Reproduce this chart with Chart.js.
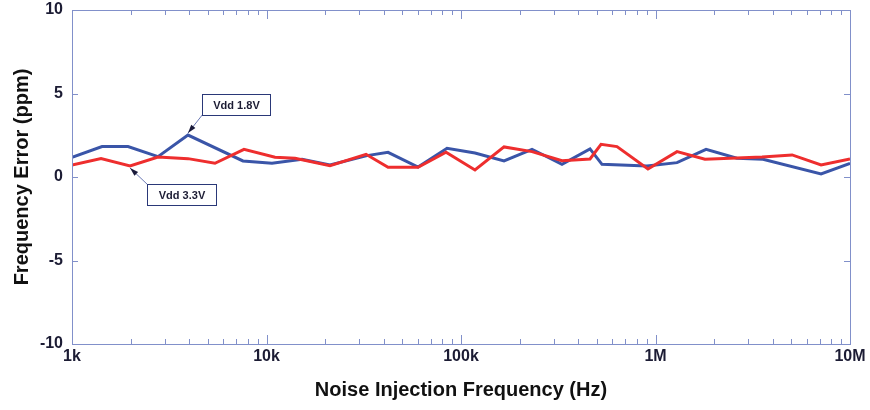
<!DOCTYPE html>
<html>
<head>
<meta charset="utf-8">
<script src="https://cdn.jsdelivr.net/npm/chart.js@4.4.1/dist/chart.umd.min.js"></script>
<style>
    html, body { margin: 0; padding: 0; background: #fff; }
    #wrap { width: 870px; height: 410px; }
</style>
</head>
<body>
<div id="wrap"><canvas id="noiseChart" width="870" height="410"></canvas></div>
<script>
// Frequencies (Hz) and frequency error (ppm)
const blueFreq = [1000, 1427, 1941, 2768, 3948, 7568, 10670, 15230, 21200, 32860, 42170, 60140, 84760,
    118000, 166400, 231800, 330500, 460600, 530700, 903700, 1290000, 1820000, 2620000, 3570000, 7100000, 10000000];
const blueValues = [1.18, 1.82, 1.82, 1.22, 2.51, 0.96, 0.82, 1.06, 0.72, 1.28, 1.48, 0.6, 1.72,
    1.44, 0.96, 1.66, 0.76, 1.68, 0.76, 0.66, 0.86, 1.66, 1.12, 1.06, 0.18, 0.82];

const redFreq = [1000, 1410, 1988, 2768, 3948, 5433, 7660, 11060, 14020, 21200, 32490, 42170, 60140, 83750,
    118000, 166400, 231800, 330500, 460600, 524800, 633900, 914500, 1290000, 1796000, 3530000, 5040000, 7100000, 10000000];
const redValues = [0.72, 1.1, 0.66, 1.2, 1.1, 0.82, 1.66, 1.18, 1.12, 0.68, 1.36, 0.58, 0.58, 1.48,
    0.42, 1.8, 1.52, 0.98, 1.08, 1.96, 1.82, 0.48, 1.52, 1.06, 1.2, 1.32, 0.72, 1.08];

const xTickValues = [1e3, 1e4, 1e5, 1e6, 1e7];
const xTickLabels = ['1k', '10k', '100k', '1M', '10M'];
const yTickValues = [-10, -5, 0, 5, 10];

const seriesNames = ['Vdd 1.8V', 'Vdd 3.3V'];

const FONT = "'Liberation Sans', Arial, sans-serif";
const FRAME = '#8190ca';
const TEXT = '#1c1c34';

const toPoints = (xs, ys) => xs.map((x, i) => ({ x, y: ys[i] }));

// box + arrow callouts, tip anchored on a data point
const callouts = [
    { text: seriesNames[0], tip: { x: 3948, y: 2.51 }, tipDy: -2, box: { x: 202, y: 94, w: 68, h: 21 }, from: 'bl' },
    { text: seriesNames[1], tip: { x: 1988, y: 0.66 }, tipDy: 2, box: { x: 147, y: 184, w: 69, h: 21 }, from: 'tl' },
];

const framePlugin = {
    id: 'frame',
    afterDatasetsDraw(chart) {
        const { ctx, chartArea: a, scales } = chart;
        ctx.save();
        ctx.strokeStyle = FRAME;
        ctx.lineWidth = 1;
        ctx.strokeRect(a.left + 0.5, a.top + 0.5, a.right - a.left, a.bottom - a.top);

        ctx.beginPath();
        yTickValues.forEach((v) => {
            const y = Math.round(scales.y.getPixelForValue(v)) + 0.5;
            ctx.moveTo(a.left, y); ctx.lineTo(a.left + 6, y);
            ctx.moveTo(a.right, y); ctx.lineTo(a.right - 6, y);
        });
        for (let d = 1e3; d < 1e7; d *= 10) {
            for (let m = 1; m <= 9; m++) {
                const x = Math.round(scales.x.getPixelForValue(d * m)) + 0.5;
                const len = m === 1 ? 9 : 5;
                ctx.moveTo(x, a.bottom); ctx.lineTo(x, a.bottom - len);
                ctx.moveTo(x, a.top); ctx.lineTo(x, a.top + len);
            }
        }
        ctx.stroke();

        callouts.forEach((c) => {
            const tx = scales.x.getPixelForValue(c.tip.x);
            const ty = scales.y.getPixelForValue(c.tip.y) + c.tipDy;
            const sx = c.box.x + 1;
            const sy = c.from === 'bl' ? c.box.y + c.box.h - 1 : c.box.y + 1;
            const ang = Math.atan2(ty - sy, tx - sx);
            ctx.strokeStyle = '#6a78b4';
            ctx.beginPath();
            ctx.moveTo(sx, sy);
            ctx.lineTo(tx, ty);
            ctx.stroke();
            ctx.fillStyle = '#1a1a3a';
            ctx.beginPath();
            ctx.moveTo(tx, ty);
            ctx.lineTo(tx - 9 * Math.cos(ang - 0.3), ty - 9 * Math.sin(ang - 0.3));
            ctx.lineTo(tx - 9 * Math.cos(ang + 0.3), ty - 9 * Math.sin(ang + 0.3));
            ctx.closePath();
            ctx.fill();

            ctx.fillStyle = '#fff';
            ctx.fillRect(c.box.x, c.box.y, c.box.w, c.box.h);
            ctx.strokeStyle = '#2a3878';
            ctx.strokeRect(c.box.x + 0.5, c.box.y + 0.5, c.box.w, c.box.h);
            ctx.fillStyle = TEXT;
            ctx.font = `bold 11px ${FONT}`;
            ctx.textAlign = 'center';
            ctx.textBaseline = 'middle';
            ctx.fillText(c.text, c.box.x + c.box.w / 2 + 0.5, c.box.y + c.box.h / 2 + 1);
        });
        ctx.restore();
    },
};

const initChart = () => {
    const canvas = document.getElementById('noiseChart');

    new Chart(canvas, {
        type: 'line',
        data: {
            datasets: [
                {
                    label: seriesNames[1],
                    data: toPoints(redFreq, redValues),
                    borderColor: '#ee2e2e',
                    borderWidth: 3,
                },
                {
                    label: seriesNames[0],
                    data: toPoints(blueFreq, blueValues),
                    borderColor: '#3a55a8',
                    borderWidth: 3,
                },
            ],
        },
        options: {
            responsive: false,
            devicePixelRatio: 1,
            animation: false,
            parsing: false,
            elements: {
                point: { radius: 0 },
                line: { tension: 0, borderJoinStyle: 'miter' },
            },
            layout: { padding: { top: 10, right: 20, bottom: 0, left: 0 } },
            plugins: {
                legend: { display: false },
                tooltip: { enabled: false },
            },
            scales: {
                x: {
                    type: 'logarithmic',
                    min: 1e3,
                    max: 1e7,
                    afterBuildTicks: (scale) => {
                        scale.ticks = xTickValues.map((value) => ({ value, major: true }));
                    },
                    afterFit: (scale) => { scale.height = 66; },
                    grid: { display: false, drawTicks: false },
                    border: { display: false },
                    ticks: {
                        autoSkip: false,
                        maxRotation: 0,
                        padding: 3,
                        color: TEXT,
                        font: { family: FONT, size: 16, weight: 'bold' },
                        callback: (value) => xTickLabels[xTickValues.indexOf(value)] ?? '',
                    },
                    title: {
                        display: true,
                        text: 'Noise Injection Frequency (Hz)',
                        color: '#111',
                        font: { family: FONT, size: 20, weight: 'bold' },
                        padding: { top: 0, bottom: 8 },
                    },
                },
                y: {
                    min: -10,
                    max: 10,
                    afterBuildTicks: (scale) => {
                        scale.ticks = yTickValues.map((value) => ({ value }));
                    },
                    afterFit: (scale) => {
                        scale.width = 72;
                        scale.paddingTop = 0;
                        scale.paddingBottom = 0;
                    },
                    grid: { display: false, drawTicks: false },
                    border: { display: false },
                    ticks: {
                        padding: 9,
                        color: TEXT,
                        font: { family: FONT, size: 16, weight: 'bold' },
                    },
                    title: {
                        display: true,
                        text: 'Frequency Error (ppm)',
                        color: '#111',
                        font: { family: FONT, size: 20, weight: 'bold' },
                        padding: { top: 10, bottom: 0 },
                    },
                },
            },
        },
        plugins: [framePlugin],
    });
};

document.addEventListener('DOMContentLoaded', initChart);
</script>
</body>
</html>
